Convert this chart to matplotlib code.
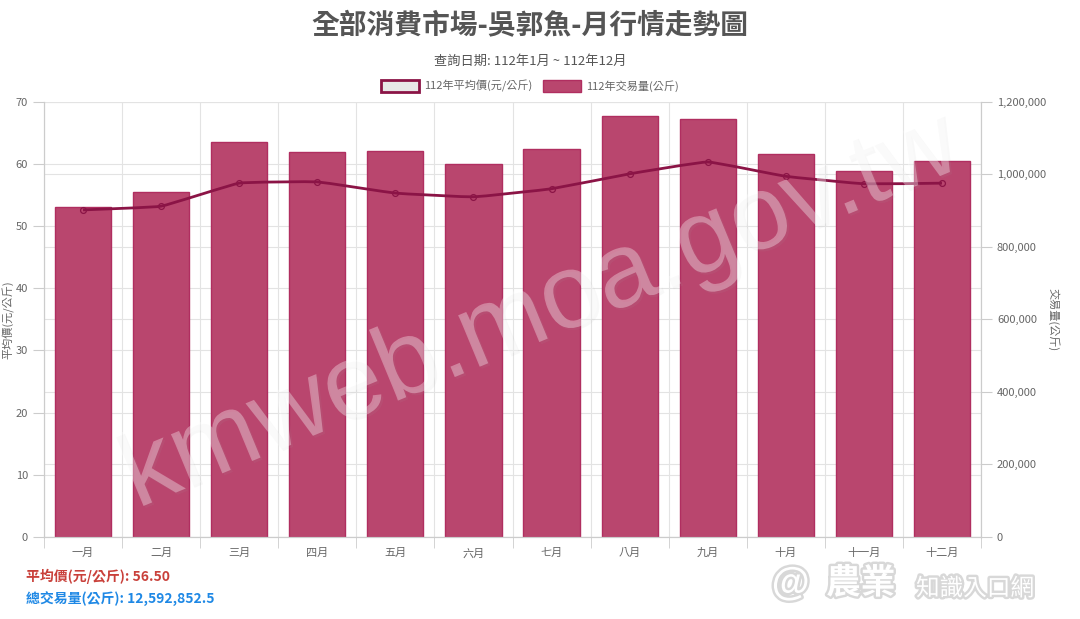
import matplotlib
matplotlib.use("Agg")
import matplotlib.pyplot as plt
from matplotlib.path import Path
from matplotlib.patches import PathPatch, Patch
import matplotlib.patheffects as pe
import numpy as np

plt.rcParams['font.family'] = ['Noto Sans CJK TC', 'DejaVu Sans']

months = ["一月", "二月", "三月", "四月", "五月", "六月", "七月", "八月", "九月", "十月", "十一月", "十二月"]
avg_price = [52.6, 53.2, 56.9, 57.1, 55.3, 54.7, 56.0, 58.4, 60.3, 58.0, 56.8, 56.9]
volume = [909700, 951000, 1089000, 1061000, 1064000, 1028000, 1070000, 1160000, 1152000, 1056000, 1009000, 1037000]
price_ticks = [0, 10, 20, 30, 40, 50, 60, 70]
volume_ticks = [0, 200000, 400000, 600000, 800000, 1000000, 1200000]

title = "全部消費市場-吳郭魚-月行情走勢圖"
subtitle = "查詢日期: 112年1月 ~ 112年12月"
legend_line = "112年平均價(元/公斤)"
legend_bar = "112年交易量(公斤)"
summary_price = "平均價(元/公斤): 56.50"
summary_volume = "總交易量(公斤): 12,592,852.5"

W, H = 1080, 619
fig = plt.figure(figsize=(W / 100, H / 100), dpi=100)
left, right, top, bottom = 44, 981, 101.7, 537
ax = fig.add_axes([left / W, 1 - bottom / H, (right - left) / W, (bottom - top) / H])
ax2 = ax.twinx()

bar_color = "#B9466E"
bar_edge = "#B02E60"
line_color = "#8B1446"
grid_color = "#E3E3E3"
text_color = "#666666"

x = np.arange(len(months))
ax.bar(x, volume, width=0.72, color=bar_color, edgecolor=bar_edge, linewidth=1, zorder=2)
ax.set_xlim(-0.5, len(months) - 0.5)
ax.set_ylim(0, 1200000)
ax.set_yticks(volume_ticks)
ax.set_yticklabels([f"{v:,}" for v in volume_ticks])
ax.yaxis.tick_right()

ax2.yaxis.tick_left()
ax2.set_ylim(0, 70)
ax2.set_yticks(price_ticks)

fig.text(8 / W, 1 - 320 / H, "平均價(元/公斤)", rotation=90, ha="center", va="center",
         fontsize=8, color=text_color)
fig.text(1053 / W, 1 - 320 / H, "交易量(公斤)", rotation=-90, ha="center", va="center",
         fontsize=8, color=text_color)

# slightly smoothed line (chart.js style spline)
px_x, px_y = (right - left) / 12, (bottom - top) / 70
pts = np.column_stack([x * px_x, np.array(avg_price) * px_y])
t = 0.1
n = len(pts)
cps = []
for i in range(n):
    prev = pts[max(i - 1, 0)]
    cur = pts[i]
    nxt = pts[min(i + 1, n - 1)]
    d01 = np.hypot(*(cur - prev))
    d12 = np.hypot(*(nxt - cur))
    s = d01 + d12
    fa = t * d01 / s if s else 0
    fb = t * d12 / s if s else 0
    cps.append((cur - fa * (nxt - prev), cur + fb * (nxt - prev)))
verts = [pts[0]]
codes = [Path.MOVETO]
for i in range(n - 1):
    verts += [cps[i][1], cps[i + 1][0], pts[i + 1]]
    codes += [Path.CURVE4] * 3
verts = np.array(verts) / np.array([px_x, px_y])
ax2.add_patch(PathPatch(Path(verts, codes), facecolor="none", edgecolor=line_color, linewidth=2.0, zorder=3))
ax2.plot(x, avg_price, linestyle="none", marker="o", markersize=4.2, markerfacecolor="none",
         markeredgecolor=line_color, markeredgewidth=0.9, zorder=4)

# grids
for yv in volume_ticks:
    ax.axhline(yv, color=grid_color, linewidth=0.8, zorder=0)
for pv in price_ticks:
    ax.axhline(pv / 70 * 1200000, color=grid_color, linewidth=0.8, zorder=0)
for b in np.arange(-0.5, len(months), 1):
    ax.axvline(b, color=grid_color, linewidth=0.8, zorder=0)

ax.set_xticks(x)
ax.set_xticklabels(months)
ax.set_xticks(np.arange(-0.5, len(months), 1), minor=True)
ax.tick_params(axis="x", which="major", length=0, pad=8, labelsize=8, colors=text_color)
ax.tick_params(axis="x", which="minor", length=8, color="#CCCCCC")
ax.tick_params(axis="y", length=8, color="#CCCCCC", labelsize=8, labelcolor=text_color)
ax2.tick_params(axis="y", length=8, color="#CCCCCC", labelsize=8, labelcolor=text_color)
for a in (ax, ax2):
    for sp in a.spines.values():
        sp.set_color("#CCCCCC")
        sp.set_linewidth(0.8)
ax2.spines["top"].set_visible(False)
ax.spines["top"].set_visible(False)

# titles
cx = 530 / W
fig.text(cx, 1 - 26 / H, title, ha="center", va="center", fontsize=20, fontweight="bold", color="#555555")
fig.text(cx, 1 - 61 / H, subtitle, ha="center", va="center", fontsize=9.5, color="#555555")

handles = [Patch(facecolor="#E8E8E8", edgecolor=line_color, linewidth=2),
           Patch(facecolor=bar_color, edgecolor=bar_edge, linewidth=1)]
fig.legend(handles, [legend_line, legend_bar], loc="center", bbox_to_anchor=(cx, 1 - 86 / H),
           ncol=2, frameon=False, fontsize=8, handlelength=3.4, handleheight=1.3,
           columnspacing=0.9, handletextpad=0.5, labelcolor=text_color)

# watermark
wm_fx = [pe.SimplePatchShadow(offset=(1.5, -1.5), shadow_rgbFace="#AAAAAA", alpha=0.08), pe.Normal()]
fig.text(540 / W, 1 - 312 / H, "kmweb.moa.gov.tw", ha="center", va="center", rotation=22.5,
         fontsize=76, color="white", alpha=0.33, family="Liberation Sans", zorder=10,
         path_effects=wm_fx)

# summary
fig.text(26 / W, 1 - 576 / H, summary_price, ha="left", va="center", fontsize=10,
         fontweight="bold", color="#C9403A")
fig.text(26 / W, 1 - 599 / H, summary_volume, ha="left", va="center", fontsize=10,
         fontweight="bold", color="#1E88E5")

# logo
glow = [pe.withStroke(linewidth=3.5, foreground="#C8C8C8", alpha=0.7)]
fig.text(790 / W, 1 - 585 / H, "@", ha="center", va="center", fontsize=28, color="white",
         family="Liberation Sans", fontweight="bold", style="italic", path_effects=glow)
fig.text(826 / W, 1 - 583 / H, "農業", ha="left", va="center", fontsize=25, fontweight="bold",
         color="white", path_effects=glow)
fig.text(916 / W, 1 - 589 / H, "知識入口網", ha="left", va="center", fontsize=17,
         color="white", path_effects=glow)

fig.savefig("out.png", dpi=100, facecolor="white")
